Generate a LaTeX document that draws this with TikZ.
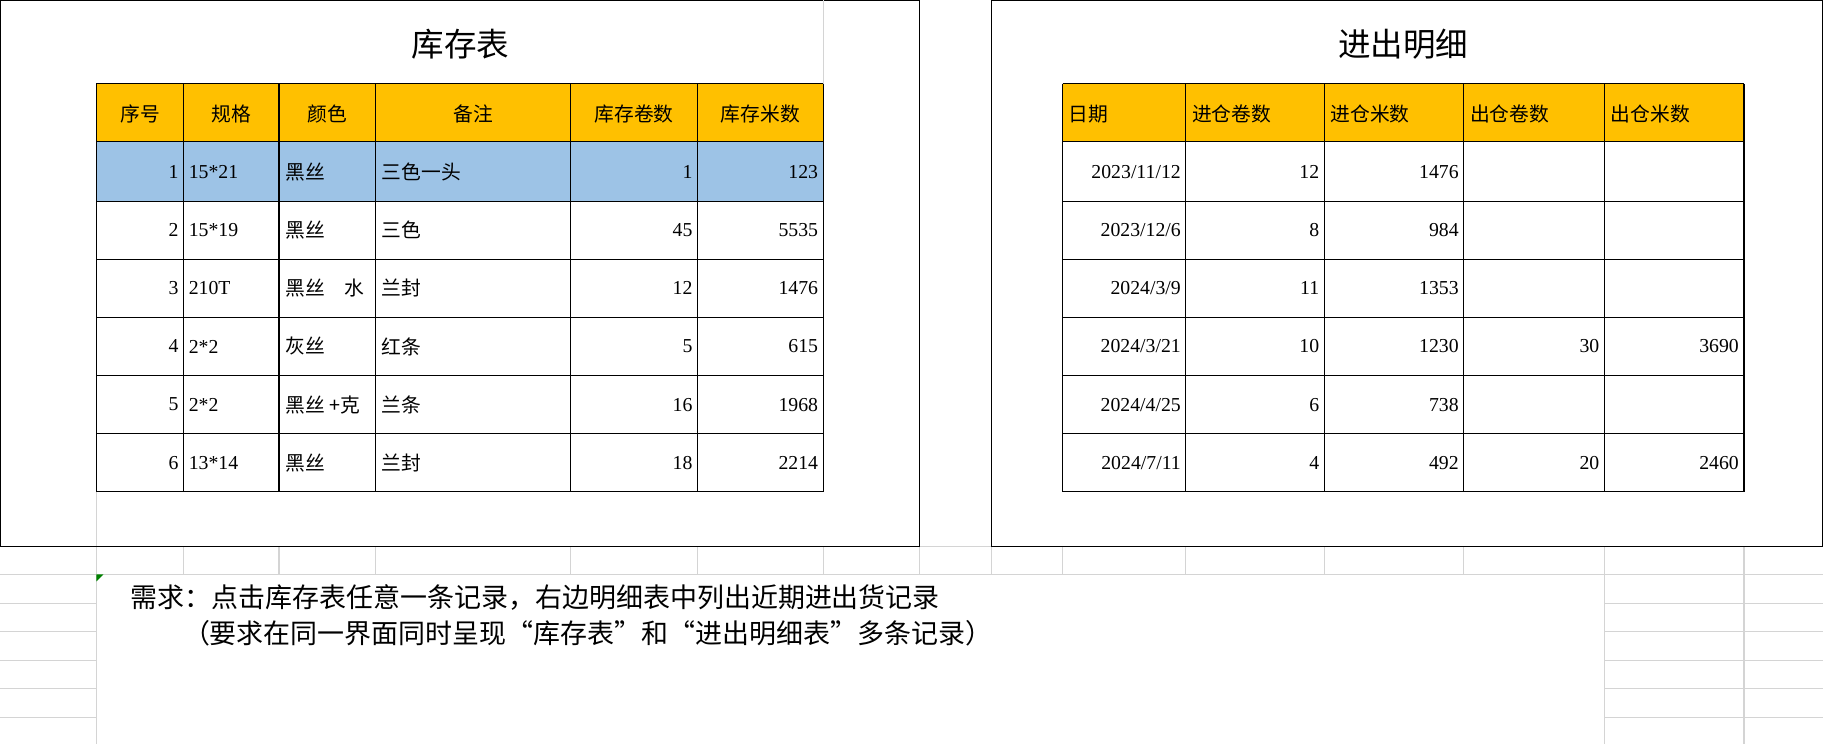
\documentclass[tikz,border=0pt]{standalone}
\usepackage{fontspec}
\setmainfont{Liberation Serif}
\newfontfamily\cjk{Noto Sans CJK SC}
\definecolor{hdr}{HTML}{FFC000}
\definecolor{sel}{HTML}{9DC3E6}
\definecolor{gridc}{HTML}{D4D4D4}

\begin{document}
\begin{tikzpicture}[x=0.5pt,y=-0.5pt,
    gridline/.style={draw=gridc,line width=0.5pt},
    frame/.style={draw=black,fill=white,line width=0.6pt},
    cellline/.style={draw=black,line width=0.5pt},
    title/.style={font=\cjk\fontsize{14}{16}\selectfont},
    txt/.style={font=\cjk\fontsize{8.5}{10}\selectfont,inner sep=1pt},
    num/.style={font=\fontsize{8.5}{10}\selectfont,inner sep=1pt,anchor=east},
    lft/.style={txt,anchor=west},
]
\useasboundingbox (0,0) rectangle (1568,640);

% spreadsheet grid
\foreach \x in {83,158,240,323,491,600,708,791,853,914,1020,1139,1259,1380,1500}
    \draw[gridline] (\x,0) -- (\x,640);
\foreach \y in {470,494.5,519,543.5,568,592.5,617}
    \draw[gridline] (0,\y) -- (1568,\y);
\fill[white] (83.5,495) rectangle (1379.5,640);
\fill[green!50!black] (83,494) -- ++(6,0) -- ++(-6,6) -- cycle;

% left frame
\draw[frame] (0,0) rectangle (791,470);
\draw[gridline] (83,423) -- (83,470);
\draw[gridline] (708,0) -- (708,72);
\node[title] (t1) at (396,38) {库存表};
\fill[hdr] (83,72) rectangle (708,122);
\fill[sel] (83,122) rectangle (708,173);
\foreach \y in {72,122,173,223,273,323,373,423}
    \draw[cellline] (83,\y) -- (708,\y);
\foreach \x in {83,158,240,323,491,600,708}
    \draw[cellline] (\x,72) -- (\x,423);
\foreach \t/\cx [count=\i] in {序号/120.5,规格/199,颜色/281.5,备注/407,库存卷数/545.5,库存米数/654}
    \node[txt] (h\i) at (\cx,98) {\t};
\foreach \n/\g/\b/\r/\m [count=\i] in {1/15*21/三色一头/1/123,2/15*19/三色/45/5535,
    3/210T/兰封/12/1476,4/2*2/红条/5/615,5/2*2/兰条/16/1968,6/13*14/兰封/18/2214}{
    \pgfmathsetmacro{\cy}{98+50*\i}
    \node[num] (n\i) at (156,\cy) {\n};
    \node[num,anchor=west] (g\i) at (160,\cy) {\g};
    \node[lft] (b\i) at (326,\cy) {\b};
    \node[num] (r\i) at (598,\cy) {\r};
    \node[num] (m\i) at (706,\cy) {\m};
}
\foreach \c/\i in {黑丝/1,黑丝/2,灰丝/4,黑丝/6}
    \node[lft] (c\i) at (243,98+50*\i) {\c};
\begin{scope}
    \clip (240,223) rectangle (322,373);
    \node[lft] (c3) at (243,248) {黑丝\hspace{1em}水};
    \node[lft] (c5) at (243,348) {黑丝 +克};
\end{scope}

% right frame
\draw[frame] (853,0) rectangle (1568,470);
\node[title] (t2) at (1207,38) {进出明细};
\fill[hdr] (914,72) rectangle (1500,122);
\foreach \y in {72,122,173,223,273,323,373,423}
    \draw[cellline] (914,\y) -- (1500,\y);
\foreach \x in {914,1020,1139,1259,1380,1500}
    \draw[cellline] (\x,72) -- (\x,423);
\foreach \t/\x [count=\i] in {日期/917,进仓卷数/1023,进仓米数/1142,出仓卷数/1262,出仓米数/1383}
    \node[lft] (k\i) at (\x,98) {\t};
\foreach \d/\a/\b/\c/\e [count=\i] in {{2023/11/12}/12/1476/{}/{},{2023/12/6}/8/984/{}/{},
    {2024/3/9}/11/1353/{}/{},{2024/3/21}/10/1230/30/3690,{2024/4/25}/6/738/{}/{},{2024/7/11}/4/492/20/2460}{
    \pgfmathsetmacro{\cy}{98+50*\i}
    \node[num] (d\i) at (1018,\cy) {\d};
    \node[num] (a\i) at (1137,\cy) {\a};
    \node[num] (p\i) at (1257,\cy) {\b};
    \node[num] (q\i) at (1378,\cy) {\c};
    \node[num] (e\i) at (1498,\cy) {\e};
}

% note
\node[lft,font=\cjk\fontsize{11.6}{13}\selectfont,anchor=west] (note1) at (110,514)
    {需求：点击库存表任意一条记录，右边明细表中列出近期进出货记录};
\node[lft,font=\cjk\fontsize{11.6}{13}\selectfont,anchor=west] (note2) at (155,545)
    {（要求在同一界面同时呈现“库存表”和“进出明细表”多条记录）};
\end{tikzpicture}
\end{document}
